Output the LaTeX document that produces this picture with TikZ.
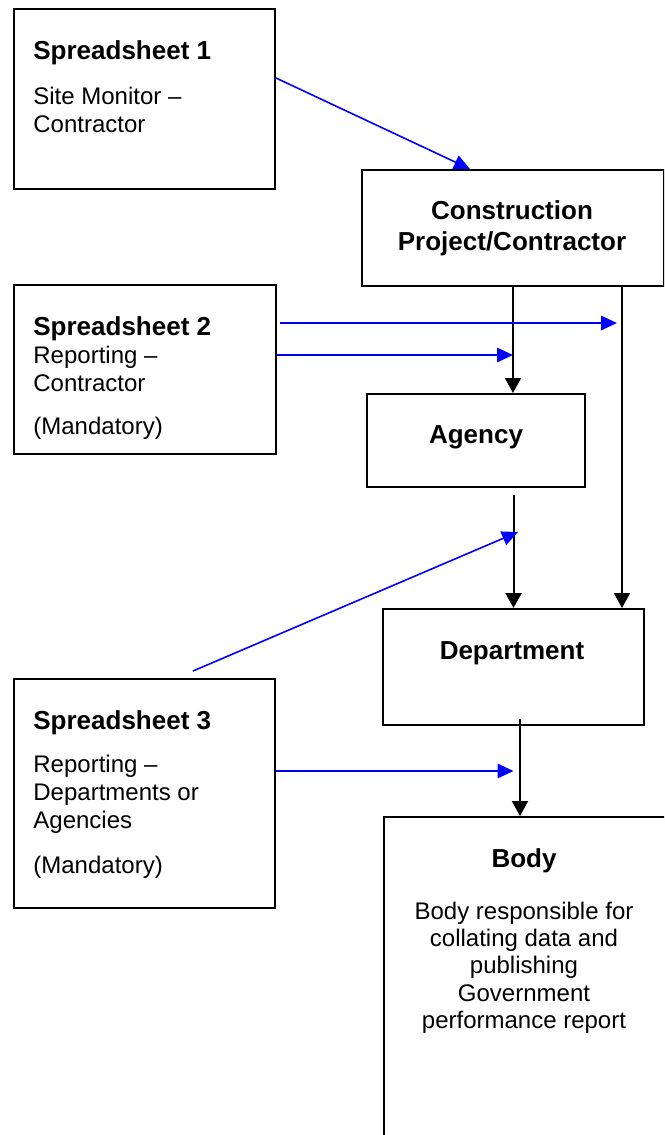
\documentclass[tikz,border=0pt]{standalone}
\usepackage{fontspec}
\setmainfont{Liberation Sans}
\usetikzlibrary{arrows.meta,calc}
\begin{document}
\begin{tikzpicture}[x=0.5pt,y=-0.5pt,
  box/.style={draw=black, line width=1pt, anchor=north west, inner sep=0pt},
  ttl/.style={inner sep=0pt, font=\fontsize{13pt}{15.5pt}\selectfont\bfseries},
  txt/.style={inner sep=0pt, font=\fontsize{12pt}{13.8pt}\selectfont},
  flow/.style={draw=black, line width=1pt, -{Triangle[length=7.5pt,width=8pt]}},
  feed/.style={draw=blue, line width=0.8pt, -{Triangle[length=8pt,width=7.25pt]}, blue}]

\fill[white] (0,0) rectangle (664,1135);
\useasboundingbox (0,0) rectangle (664,1135);
\clip (0,0) rectangle (664,1135);

% boxes
\node[box, minimum width=130.5pt, minimum height=90pt]   (s1)     at (13,8)    {};
\node[box, minimum width=151pt,   minimum height=58pt]   (cons)   at (361,169) {};
\node[box, minimum width=131pt,   minimum height=84.5pt] (s2)     at (13,284)  {};
\node[box, minimum width=109pt,   minimum height=46.5pt] (agency) at (366,393) {};
\node[box, minimum width=130.5pt, minimum height=58pt]   (dept)   at (382,608) {};
\node[box, minimum width=130.5pt, minimum height=114.5pt](s3)     at (13,678)  {};
\node[box, minimum width=170pt,   minimum height=200pt]  (body)   at (383,816) {};

% box texts
\node[ttl, anchor=base west] (s1t) at (33,59)  {Spreadsheet 1};
\node[txt, anchor=base west] (s1a) at (33,104) {Site Monitor –};
\node[txt, anchor=base west] (s1b) at (33,132) {Contractor};

\node[ttl, anchor=base] (ct1) at (512,219) {Construction};
\node[ttl, anchor=base] (ct2) at (512,250) {Project/Contractor};

\node[ttl, anchor=base west] (s2t) at (33,335) {Spreadsheet 2};
\node[txt, anchor=base west] (s2a) at (33,363) {Reporting –};
\node[txt, anchor=base west] (s2b) at (33,391) {Contractor};
\node[txt, anchor=base west] (s2c) at (33,434) {(Mandatory)};

\node[ttl, anchor=base] (agt) at (476,443) {Agency};
\node[ttl, anchor=base] (dpt) at (512,659) {Department};

\node[ttl, anchor=base west] (s3t) at (33,729)   {Spreadsheet 3};
\node[txt, anchor=base west] (s3a) at (33,772.5) {Reporting –};
\node[txt, anchor=base west] (s3b) at (33,800)   {Departments or};
\node[txt, anchor=base west] (s3c) at (33,828)   {Agencies};
\node[txt, anchor=base west] (s3d) at (33,873)   {(Mandatory)};

\node[ttl, anchor=base] (bdt) at (524,867)    {Body};
\node[txt, anchor=base] (bd1) at (524,919.3)  {Body responsible for};
\node[txt, anchor=base] (bd2) at (524,946.6)  {collating data and};
\node[txt, anchor=base] (bd3) at (524,973.8)  {publishing};
\node[txt, anchor=base] (bd4) at (524,1001)   {Government};
\node[txt, anchor=base] (bd5) at (524,1028.3) {performance report};

% reporting chain
\coordinate (c2) at ($(cons.south)+(109,0)$);
\coordinate (d2) at ($(dept.south)+(6.5,-7)$);
\coordinate (a2) at ($(dept.north |- agency.south)+(0,7)$);
\draw[flow] (cons.south) -- (cons.south |- agency.north);
\draw[flow] (c2) -- (c2 |- dept.north);
\draw[flow] (a2) -- (dept.north);
\draw[flow] (d2) -- (d2 |- body.north);

% spreadsheet inputs
\coordinate (s2u) at ($(s2.east)+(3,-46.5)$);
\coordinate (s2l) at ($(s2.east)+(0,-14.5)$);
\coordinate (s3u) at ($(s3.north)+(48.5,-7)$);
\coordinate (s3h) at ($(s3.east)+(0,-22.5)$);
\draw[feed] ([yshift=10.5pt]s1.east) -- ($(cons.north)+(-43,0)$);
\draw[feed] (s2u) -- ($(c2 |- s2u)+(-5,0)$);
\draw[feed] (s2l) -- (cons.south |- s2l);
\draw[feed] (s3u) -- ($(dept.north)+(4.5,-76)$);
\draw[feed] (s3h) -- (dept.north |- s3h);
\end{tikzpicture}
\end{document}
